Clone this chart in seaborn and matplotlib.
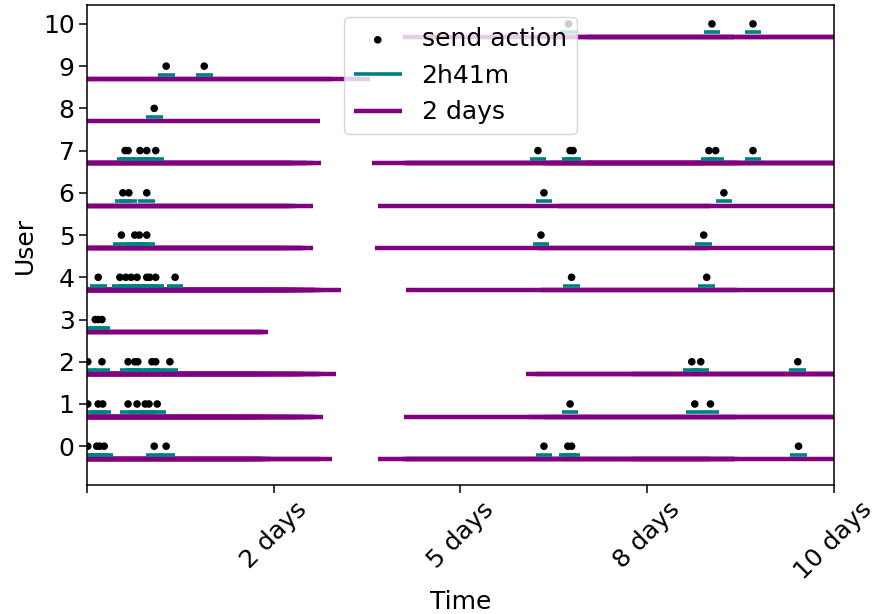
import numpy as np
import pandas as pd
import seaborn as sns
import matplotlib.pyplot as plt

# send-action times (days) for each user
user_0 = [0.01, 0.13, 0.17, 0.23, 0.90, 1.06, 6.12, 6.44, 6.49, 9.53]
user_1 = [0.01, 0.15, 0.21, 0.55, 0.67, 0.78, 0.83, 0.94, 6.47, 8.14, 8.35]
user_2 = [0.01, 0.20, 0.55, 0.64, 0.68, 0.87, 0.92, 1.11, 8.10, 8.22, 9.52]
user_3 = [0.11, 0.15, 0.20]
user_4 = [0.15, 0.44, 0.52, 0.59, 0.67, 0.80, 0.84, 0.92, 1.18, 6.49, 8.30]
user_5 = [0.46, 0.64, 0.70, 0.80, 6.08, 8.26]
user_6 = [0.48, 0.56, 0.80, 6.12, 8.53]
user_7 = [0.51, 0.55, 0.71, 0.80, 0.92, 6.04, 6.47, 6.51, 8.33, 8.42, 8.92]
user_8 = [0.90]
user_9 = [1.06, 1.57]
user_10 = [6.45, 8.37, 8.92]

all_users = [user_0, user_1, user_2, user_3, user_4, user_5, user_6,
             user_7, user_8, user_9, user_10]

short_half = (2 + 41 / 60) / 24   # 2h41m window half-width, in days
long_half = 2.22                  # "2 days" window half-width as drawn

tick_pos = [0, 2.5, 5, 7.5, 10]
tick_lbl = ['', '2 days', '5 days', '8 days', '10 days']

rows = []
for u, times in enumerate(all_users):
    for t in times:
        rows.append((u, t))
df = pd.DataFrame(rows, columns=['user', 'time'])

fig, ax = plt.subplots(figsize=(8.72, 6.14), dpi=100)

ax.hlines(df.user - 0.3, df.time - long_half, df.time + long_half,
          color='purple', lw=3.2, label='2 days')
ax.hlines(df.user - 0.2, df.time - short_half, df.time + short_half,
          color='teal', lw=2.6, label='2h41m')
sns.scatterplot(data=df, x='time', y='user', color='black', s=30,
                edgecolor='none', label='send action', ax=ax, zorder=3)

handles, labels = ax.get_legend_handles_labels()
order = [labels.index('send action'), labels.index('2h41m'), labels.index('2 days')]
ax.legend([handles[i] for i in order], [labels[i] for i in order],
          loc='upper center', fontsize=18, handlelength=1.9)

ax.set_xlim(0, 10)
ax.set_ylim(-0.92, 10.45)
ax.set_xticks(tick_pos)
ax.set_xticklabels(tick_lbl, rotation=45, fontsize=18)
ax.set_yticks(range(11))
ax.tick_params(axis='y', labelsize=18)
ax.tick_params(length=5.5, width=1.1)
for s in ax.spines.values():
    s.set_linewidth(1.1)
ax.set_xlabel('Time', fontsize=18)
ax.set_ylabel('User', fontsize=18)

fig.subplots_adjust(left=0.0998, right=0.956, bottom=0.21, top=0.992)
plt.savefig('out.png', dpi=100)
